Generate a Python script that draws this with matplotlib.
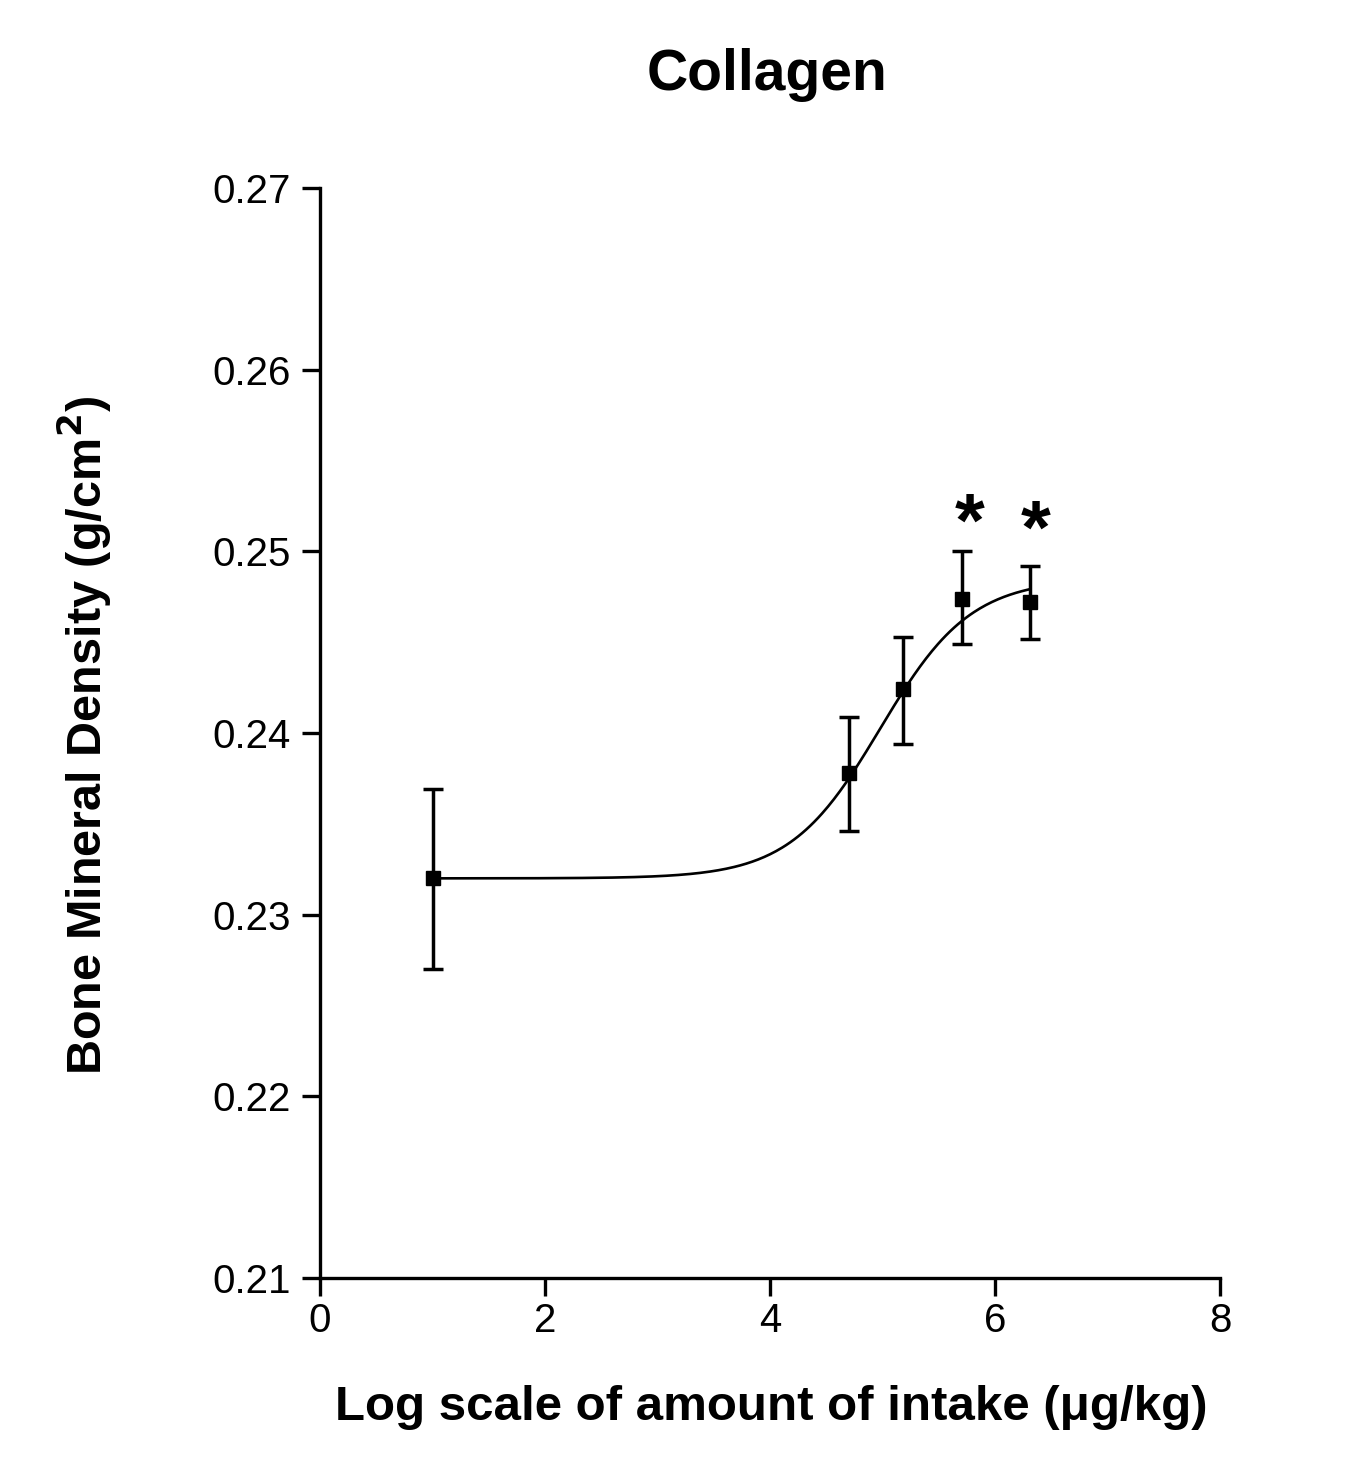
import numpy as np
import matplotlib
matplotlib.use("Agg")
import matplotlib.pyplot as plt

plt.rcParams['font.family'] = ['Liberation Sans', 'DejaVu Sans']

# Data (log dose, BMD mean, SEM)
log_dose = [1.0, 4.70, 5.18, 5.71, 6.31]
bmd_mean = [0.2320, 0.2378, 0.2424, 0.2474, 0.2472]
bmd_err_lo = [0.0050, 0.0032, 0.0030, 0.0025, 0.0020]
bmd_err_hi = [0.0049, 0.0031, 0.0029, 0.0026, 0.0020]

# Fitted sigmoidal dose-response parameters (bottom, top, logEC50, hill)
fit_bottom = 0.2320
fit_top = 0.2485
fit_logec50 = 4.98
fit_hill = 1.08

sig_x = [5.77, 6.36]
sig_y = [0.2514, 0.2510]

xticks = [0, 2, 4, 6, 8]
yticks = [0.21, 0.22, 0.23, 0.24, 0.25, 0.26, 0.27]
ytick_labels = ["0.21", "0.22", "0.23", "0.24", "0.25", "0.26", "0.27"]

fig = plt.figure(figsize=(13.59, 14.77), dpi=100)
ax = fig.add_axes([0.2355, 0.1347, 0.8977 - 0.2355, 0.8727 - 0.1347])

xc = np.linspace(min(log_dose), max(log_dose), 300)
yc = fit_bottom + (fit_top - fit_bottom) / (1 + 10 ** ((fit_logec50 - xc) * fit_hill))
ax.plot(xc, yc, color='black', lw=1.9)

ax.errorbar(log_dose, bmd_mean, yerr=[bmd_err_lo, bmd_err_hi], fmt='s', color='black',
            ms=10, ecolor='black', elinewidth=2.5, capsize=7.5, capthick=2.5)

for x, y in zip(sig_x, sig_y):
    ax.text(x, y, '*', ha='center', va='center', fontsize=55, fontweight='bold')

ax.set_xlim(0, 8)
ax.set_ylim(0.21, 0.27)
ax.set_xticks(xticks)
ax.set_yticks(yticks)
ax.set_yticklabels(ytick_labels)
for s in ['top', 'right']:
    ax.spines[s].set_visible(False)
for s in ['left', 'bottom']:
    ax.spines[s].set_linewidth(2.4)
ax.tick_params(axis='both', direction='out', length=13, width=2.4, labelsize=29)
ax.tick_params(axis='y', pad=8)
ax.tick_params(axis='x', pad=4)

fig.text(0.5645, 1 - 75 / 1477, 'Collagen', fontsize=41, fontweight='bold', ha='center', va='center')

fig.text(771 / 1359, 1 - 1407 / 1477, 'Log scale of amount of intake (\u03bcg/kg)',
         fontsize=35.5, fontweight='bold', ha='center', va='center')
fig.text(85 / 1359, 1 - 735 / 1477, 'Bone Mineral Density (g/cm$^\\mathbf{2}$)',
         fontsize=35, fontweight='bold', ha='center', va='center', rotation=90)

fig.savefig('out.png', dpi=100)
